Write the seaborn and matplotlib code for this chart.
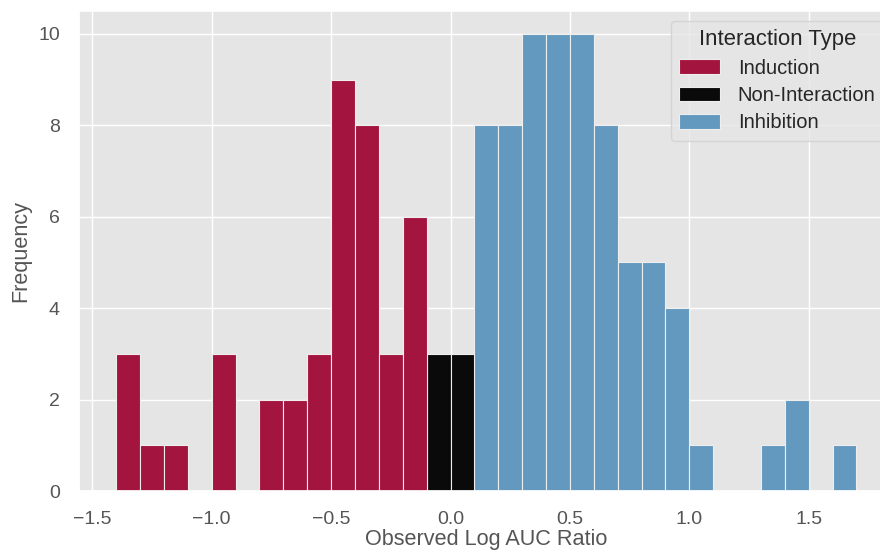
import numpy as np
import pandas as pd
import matplotlib
matplotlib.use("Agg")
import matplotlib.pyplot as plt
import seaborn as sns

# ---- data ----
bin_start = -1.4
bin_width = 0.1
n_bins = 31
induction_counts = [3, 1, 1, 0, 3, 0, 2, 2, 3, 9, 8, 3, 6]
noninteraction_counts = [3, 3]
inhibition_counts = [8, 8, 10, 10, 10, 8, 5, 5, 4, 1, 0, 0, 1, 2, 0, 1]
categories = ["Induction", "Non-Interaction", "Inhibition"]
colors = ["#A3143E", "#0A0A0A", "#6399BF"]
x_ticks = [-1.5, -1.0, -0.5, 0.0, 0.5, 1.0, 1.5]
y_ticks = [0, 2, 4, 6, 8, 10]

edges = bin_start + bin_width * np.arange(n_bins + 1)
centers = (edges[:-1] + edges[1:]) / 2

rows = []
offset = 0
for cat, counts in zip(categories, [induction_counts, noninteraction_counts, inhibition_counts]):
    for i, c in enumerate(counts):
        if c > 0:
            rows.append({"Observed Log AUC Ratio": centers[offset + i], "count": c, "Interaction Type": cat})
    offset += len(counts)
df = pd.DataFrame(rows)

sns.set_theme(style="darkgrid", rc={
    "axes.facecolor": "#E5E5E5",
    "grid.color": "white",
    "axes.labelcolor": "#555555",
    "xtick.color": "#555555",
    "ytick.color": "#555555",
    "text.color": "#262626",
    "xtick.labelsize": 14,
    "ytick.labelsize": 14,
    "axes.labelsize": 15.6,
    "legend.fontsize": 14.5,
    "legend.title_fontsize": 15.9,
    "xtick.major.pad": 8.5,
    "ytick.major.pad": 8,
})
plt.rcParams["font.family"] = ["Liberation Sans", "DejaVu Sans"]

fig = plt.figure(figsize=(8.8, 5.52), dpi=100)
ax = fig.add_axes([79.2 / 880, 61 / 552, 814.3 / 880, 480 / 552])

sns.histplot(data=df, x="Observed Log AUC Ratio", weights="count", hue="Interaction Type",
             hue_order=categories, palette=dict(zip(categories, colors)), bins=n_bins,
             binrange=(edges[0], edges[-1]),
             alpha=1.0, edgecolor="#EEEEEE", linewidth=0.8, ax=ax)

ax.set_ylabel("Frequency", labelpad=5)
ax.set_xlabel("Observed Log AUC Ratio", labelpad=0.5)
ax.set_xticks(x_ticks)
ax.set_yticks(y_ticks)
sns.move_legend(ax, "upper right", title="Interaction Type", frameon=True,
                handletextpad=0.9, labelspacing=0.42)
leg = ax.get_legend()
leg.get_frame().set_facecolor("#E6E6E6")
leg.get_frame().set_edgecolor("#D0D0D0")

fig.savefig("out.png", dpi=100)
